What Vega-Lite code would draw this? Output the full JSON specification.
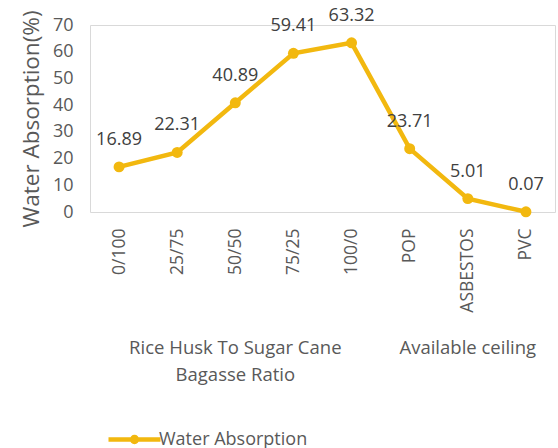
{
  "$schema": "https://vega.github.io/schema/vega-lite/v6.json",
  "autosize": "none",
  "width": 465,
  "height": 187,
  "padding": {"left": 90, "top": 25, "right": 3, "bottom": 236},
  "background": "white",
  "config": {
    "font": "Open Sans",
    "view": {"stroke": "#d9d9d9", "strokeWidth": 1},
    "axis": {"labelColor": "#595959", "titleColor": "#595959", "labelFont": "Open Sans", "titleFont": "Open Sans"}
  },
  "datasets": {
    "main": [
      {"category": "0/100", "value": 16.89, "series": "Water Absorption"},
      {"category": "25/75", "value": 22.31, "series": "Water Absorption"},
      {"category": "50/50", "value": 40.89, "series": "Water Absorption"},
      {"category": "75/25", "value": 59.41, "series": "Water Absorption"},
      {"category": "100/0", "value": 63.32, "series": "Water Absorption"},
      {"category": "POP", "value": 23.71, "series": "Water Absorption"},
      {"category": "ASBESTOS", "value": 5.01, "series": "Water Absorption"},
      {"category": "PVC", "value": 0.07, "series": "Water Absorption"}
    ],
    "groups": [
      {"category": "50/50", "group": ["Rice Husk To Sugar Cane", "Bagasse Ratio"]},
      {"category": "ASBESTOS", "group": ["Available ceiling"]}
    ]
  },
  "encoding": {
    "x": {
      "field": "category", "type": "nominal", "sort": null,
      "scale": {"paddingInner": 0, "paddingOuter": 0.5},
      "axis": {"title": null, "labelAngle": -90, "labelAlign": "right", "labelBaseline": "middle", "labelPadding": 16, "ticks": false, "domain": false, "labelFontSize": 17.5}
    }
  },
  "layer": [
    {
      "data": {"name": "main"},
      "encoding": {
        "y": {
          "field": "value", "type": "quantitative",
          "scale": {"domain": [0, 70]},
          "axis": {"title": "Water Absorption(%)", "titleFontSize": 22.5, "titleFontWeight": "normal", "titlePadding": 9, "values": [0,10,20,30,40,50,60,70], "labelOverlap": false, "grid": false, "ticks": false, "domain": false, "labelFontSize": 18, "labelPadding": 17}
        }
      },
      "layer": [
        {
          "mark": {"type": "line", "strokeWidth": 4.5, "point": {"size": 120, "filled": true}},
          "encoding": {
            "color": {
              "field": "series", "type": "nominal",
              "scale": {"range": ["#F2B80F"]},
              "legend": {
                "title": null, "orient": "none", "legendX": 26, "legendY": 396,
                "symbolType": "M-1.6,0H1.6M0.15,0A0.15,0.15,0,1,1,-0.15,0A0.15,0.15,0,1,1,0.15,0",
                "symbolStrokeWidth": 4.5, "symbolSize": 1056, "symbolFillColor": "#F2B80F",
                "labelFontSize": 18, "labelColor": "#595959", "labelFont": "Open Sans", "labelOffset": 6
              }
            }
          }
        },
        {
          "mark": {"type": "text", "dy": -27, "fontSize": 18, "color": "#404040", "baseline": "middle"},
          "encoding": {
            "text": {"field": "value", "type": "quantitative", "format": ".2f"}
          }
        }
      ]
    },
    {
      "data": {"name": "groups"},
      "mark": {"type": "text", "fontSize": 18.5, "color": "#595959", "baseline": "top", "lineHeight": 27, "dy": 127},
      "encoding": {
        "y": {"datum": 0, "type": "quantitative", "scale": {"domain": [0, 70]},
          "axis": {"title": "Water Absorption(%)", "titleFontSize": 22.5, "titleFontWeight": "normal", "titlePadding": 9, "values": [0,10,20,30,40,50,60,70], "labelOverlap": false, "grid": false, "ticks": false, "domain": false, "labelFontSize": 18, "labelPadding": 17}},
        "text": {"field": "group"}
      }
    }
  ]
}
